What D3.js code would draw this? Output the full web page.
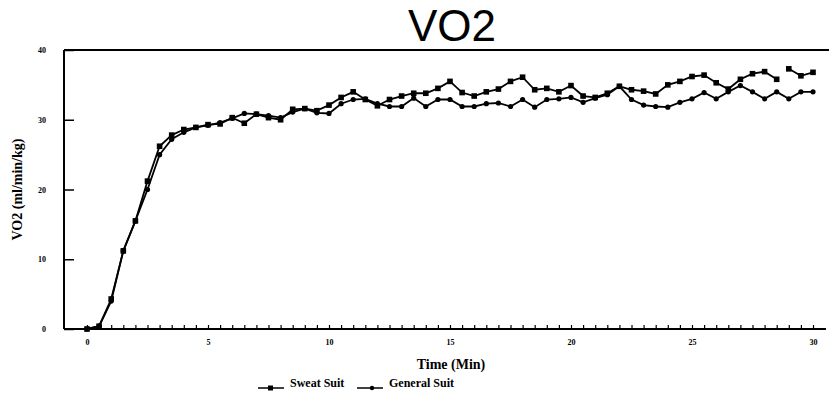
<!DOCTYPE html>
<html>
<head>
<meta charset="utf-8">
<script src="https://cdn.jsdelivr.net/npm/d3@7"></script>
<style>
  html, body { margin: 0; padding: 0; background: #fff; }
  svg { display: block; }
</style>
</head>
<body>
<svg id="svg"></svg>
<script>
const width = 829, height = 403;

// time points (min), every half minute
const times = d3.range(0, 30.01, 0.5);

const sweatSuit = [
    0, 0.4, 4.3, 11.2, 15.5, 21.2, 26.2, 27.8, 28.6, 28.9,
    29.3, 29.4, 30.3, 29.5, 30.8, 30.3, 30.0, 31.5, 31.6, 31.3,
    32.1, 33.2, 34.0, 32.9, 32.0, 32.9, 33.4, 33.8, 33.8, 34.5,
    35.5, 33.9, 33.4, 34.0, 34.4, 35.5, 36.1, 34.3, 34.5, 34.0,
    34.9, 33.4, 33.2, 33.8, 34.8, 34.3, 34.1, 33.7, 35.0, 35.5,
    36.2, 36.4, 35.3, 34.4, 35.8, 36.6, 36.9, 35.8, 37.3, 36.3,
    36.8
];

const generalSuit = [
    0, 0.4, 4.0, 11.2, 15.5, 20.0, 25.0, 27.2, 28.2, 28.9,
    29.2, 29.6, 30.2, 30.9, 30.8, 30.6, 30.3, 31.1, 31.6, 31.0,
    30.9, 32.3, 32.9, 33.0, 32.3, 31.9, 31.9, 33.1, 31.9, 32.9,
    32.9, 31.9, 31.9, 32.3, 32.4, 31.9, 32.9, 31.8, 32.9, 33.0,
    33.2, 32.5, 33.1, 33.6, 34.8, 32.9, 32.1, 31.9, 31.8, 32.5,
    33.0, 33.9, 33.0, 34.0, 34.9, 34.0, 33.0, 34.0, 33.0, 34.0,
    34.0
];

// the sweat suit trace has a small break between 28.5 and 29 min
const sweatBreaks = [28.5];

const yTicks = [0, 10, 20, 30, 40];
const xLabels = [0, 5, 10, 15, 20, 25, 30];

const x = d3.scaleLinear().domain([0, 30]).range([87, 813]);
const y = d3.scaleLinear().domain([0, 40]).range([329, 50]);

const svg = d3.select('#svg')
    .attr('width', width)
    .attr('height', height);

const ink = '#000';
const serif = '"Liberation Serif", "Times New Roman", serif';

// title
svg.append('text')
    .attr('x', 452)
    .attr('y', 41)
    .attr('text-anchor', 'middle')
    .attr('fill', ink)
    .style('font-family', '"Liberation Sans", Arial, sans-serif')
    .style('font-size', '44px')
    .text('VO2');

// frame: left + top + bottom
svg.append('line')
    .attr('x1', 64).attr('y1', y(40)).attr('x2', 64).attr('y2', y(0))
    .attr('stroke', ink).attr('stroke-width', 2);
svg.append('line')
    .attr('x1', 64).attr('y1', y(40)).attr('x2', 829).attr('y2', y(40))
    .attr('stroke', ink).attr('stroke-width', 2);
svg.append('line')
    .attr('x1', 64).attr('y1', y(0)).attr('x2', 826).attr('y2', y(0))
    .attr('stroke', ink).attr('stroke-width', 2);

// y axis
const yAxis = d3.axisRight(y)
    .tickValues(yTicks)
    .tickSize(10)
    .tickFormat(d3.format('d'));

const gy = svg.append('g')
    .attr('transform', 'translate(64,0)')
    .call(yAxis);
gy.select('.domain').remove();
gy.selectAll('.tick line').attr('stroke', ink).attr('stroke-width', 1.5);
gy.selectAll('.tick text')
    .attr('x', -18)
    .attr('text-anchor', 'end')
    .attr('fill', ink)
    .style('font-family', serif)
    .style('font-weight', 'bold')
    .style('font-size', '8px');

// x axis, minor ticks every half minute
const xAxis = d3.axisBottom(x)
    .tickValues(times)
    .tickSize(-4)
    .tickFormat(d => xLabels.includes(d) ? d3.format('d')(d) : '');

const gx = svg.append('g')
    .attr('transform', `translate(0,${y(0)})`)
    .call(xAxis);
gx.select('.domain').remove();
gx.selectAll('.tick line').attr('stroke', ink).attr('stroke-width', 1.2);
gx.selectAll('.tick text')
    .attr('y', 10)
    .attr('fill', ink)
    .style('font-family', serif)
    .style('font-weight', 'bold')
    .style('font-size', '8px');

// axis titles
svg.append('text')
    .attr('x', 451)
    .attr('y', 369)
    .attr('text-anchor', 'middle')
    .attr('fill', ink)
    .style('font-family', serif)
    .style('font-weight', 'bold')
    .style('font-size', '14px')
    .text('Time (Min)');

svg.append('text')
    .attr('transform', `translate(22,${y(20)}) rotate(-90)`)
    .attr('text-anchor', 'middle')
    .attr('fill', ink)
    .style('font-family', serif)
    .style('font-weight', 'bold')
    .style('font-size', '14px')
    .text('VO2 (ml/min/kg)');

// series
const sweatData = times.map((t, i) => ({ t, v: sweatSuit[i] }));
const generalData = times.map((t, i) => ({ t, v: generalSuit[i] }));

const line = d3.line().x(d => x(d.t)).y(d => y(d.v));

// split sweat suit at its breaks
let segments = [];
let current = [];
sweatData.forEach(d => {
    current.push(d);
    if (sweatBreaks.includes(d.t)) {
        segments.push(current);
        current = [];
    }
});
segments.push(current);

svg.selectAll('path.general')
    .data([generalData])
    .enter()
    .append('path')
    .attr('class', 'general')
    .attr('d', line)
    .attr('fill', 'none')
    .attr('stroke', ink)
    .attr('stroke-width', 1.8);

svg.selectAll('path.sweat')
    .data(segments)
    .enter()
    .append('path')
    .attr('class', 'sweat')
    .attr('d', line)
    .attr('fill', 'none')
    .attr('stroke', ink)
    .attr('stroke-width', 1.8);

svg.selectAll('circle.general')
    .data(generalData)
    .enter()
    .append('circle')
    .attr('class', 'general')
    .attr('cx', d => x(d.t))
    .attr('cy', d => y(d.v))
    .attr('r', 2.6)
    .attr('fill', ink);

svg.selectAll('rect.sweat')
    .data(sweatData)
    .enter()
    .append('rect')
    .attr('class', 'sweat')
    .attr('x', d => x(d.t) - 2.8)
    .attr('y', d => y(d.v) - 2.8)
    .attr('width', 5.6)
    .attr('height', 5.6)
    .attr('fill', ink);

// legend
const legend = [
    { name: 'Sweat Suit', x: 258, marker: 'square' },
    { name: 'General Suit', x: 357, marker: 'circle' }
];

const lg = svg.selectAll('g.legend')
    .data(legend)
    .enter()
    .append('g')
    .attr('class', 'legend')
    .attr('transform', d => `translate(${d.x},388)`);

lg.append('line')
    .attr('x1', 0).attr('x2', 26)
    .attr('stroke', ink).attr('stroke-width', 1.5);

lg.filter(d => d.marker === 'square')
    .append('rect')
    .attr('x', 10).attr('y', -2.5).attr('width', 5).attr('height', 5)
    .attr('fill', ink);

lg.filter(d => d.marker === 'circle')
    .append('circle')
    .attr('cx', 15).attr('cy', 0).attr('r', 2.2)
    .attr('fill', ink);

lg.append('text')
    .attr('x', 32)
    .attr('y', -1)
    .attr('fill', ink)
    .style('font-family', serif)
    .style('font-weight', 'bold')
    .style('font-size', '12px')
    .text(d => d.name);
</script>
</body>
</html>
